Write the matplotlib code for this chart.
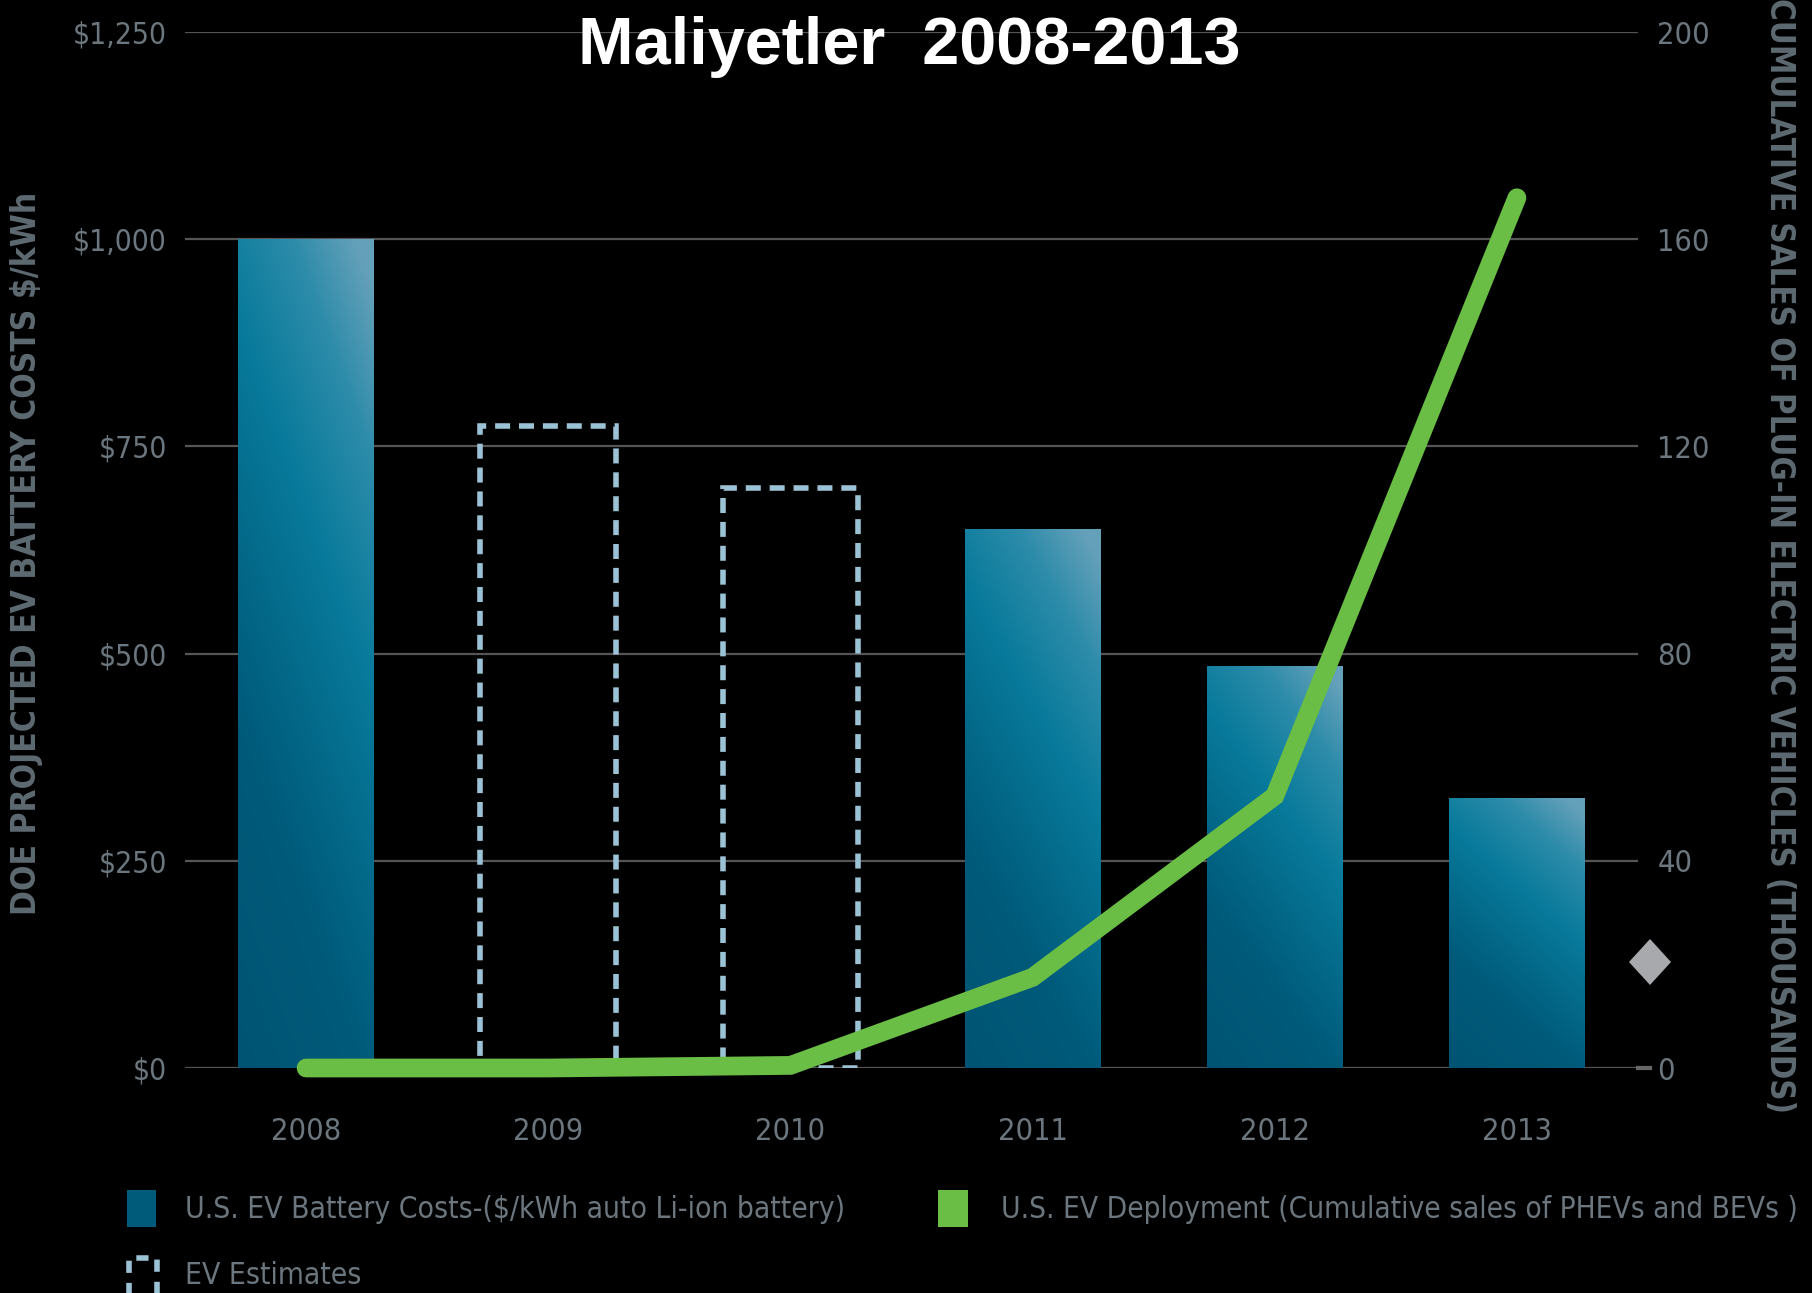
import numpy as np
import matplotlib
matplotlib.use("Agg")
import matplotlib.pyplot as plt
from matplotlib.colors import LinearSegmentedColormap
from matplotlib.patches import Rectangle, Polygon

# chart data
years = ["2008", "2009", "2010", "2011", "2012", "2013"]
battery_cost = [1000, None, None, 650, 485, 325]       # $/kWh, solid bars
estimate_cost = [None, 775, 700, None, None, None]      # $/kWh, dashed estimate bars
ev_sales = [0, 0, 0.5, 17.5, 52.5, 168]                 # thousands, cumulative
cost_ticks = [0, 250, 500, 750, 1000, 1250]
cost_labels = ["$0", "$250", "$500", "$750", "$1,000", "$1,250"]
sales_ticks = [0, 40, 80, 120, 160, 200]

BG = "black"
GRID = "#555555"
TXT = "#6b767e"
LABEL = "#5e6a72"
GREEN = "#6abd45"
DASH = "#9cc3d5"
NARROW = dict(family="DejaVu Sans", stretch="condensed")

fig = plt.figure(figsize=(18.12, 12.93), dpi=100, facecolor=BG)
ax = fig.add_axes([185 / 1812, 1 - 1068 / 1293, 1453 / 1812, 1036 / 1293])
ax.set_facecolor(BG)
x = np.arange(len(years))
width = 0.56

# blue gradient used inside every solid bar
bar_cmap = LinearSegmentedColormap.from_list(
    "bar",
    [(0.0, (0 / 255, 84 / 255, 115 / 255)),
     (0.3, (0 / 255, 90 / 255, 122 / 255)),
     (0.65, (8 / 255, 122 / 255, 155 / 255)),
     (0.85, (45 / 255, 140 / 255, 170 / 255)),
     (1.0, (100 / 255, 160 / 255, 185 / 255))])
ny, nx = 200, 60
tt, ss = np.meshgrid(np.linspace(0, 1, nx), np.linspace(0, 1, ny))
grad = np.clip(0.72 * ss + 0.32 * tt, 0, 1)

for xi, v in zip(x, battery_cost):
    if v is None:
        continue
    ax.imshow(grad, cmap=bar_cmap, vmin=0, vmax=1, origin="lower",
              extent=(xi - width / 2, xi + width / 2, 0, v),
              aspect="auto", zorder=2, interpolation="bilinear")

for xi, v in zip(x, estimate_cost):
    if v is None:
        continue
    ax.add_patch(Rectangle((xi - width / 2, 0), width, v, fill=False,
                           edgecolor=DASH, lw=4, linestyle=(0, (2.7, 1.6)),
                           zorder=3))

ax.set_xlim(-0.5, 5.5)
ax.set_ylim(0, 1250)
ax.set_yticks(cost_ticks)
ax.set_yticklabels(cost_labels)
ax.set_xticks(x)
ax.set_xticklabels(years)
ax.yaxis.grid(True, color=GRID, lw=1.6, zorder=1)
ax.set_axisbelow(True)
for s in ax.spines.values():
    s.set_visible(False)
ax.tick_params(axis="y", length=0, pad=13, labelsize=21.5, labelcolor=TXT)
ax.tick_params(axis="x", length=0, pad=35, labelsize=22, labelcolor=TXT)
for lab in ax.get_xticklabels() + ax.get_yticklabels():
    lab.set(**NARROW)

# short stub continuing the zero line towards the right-hand "0"
ax.plot([1.0, 1.008], [0, 0], transform=ax.transAxes, color="#666666",
        lw=3, clip_on=False, zorder=1)

# cumulative deployment line on the right-hand axis
ax2 = ax.twinx()
ax2.set_ylim(0, 200)
ax2.set_yticks(sales_ticks)
ax2.plot(x, ev_sales, color=GREEN, lw=13.5, solid_capstyle="round",
         solid_joinstyle="miter", clip_on=False, zorder=5)
for s in ax2.spines.values():
    s.set_visible(False)
ax2.tick_params(axis="y", length=0, pad=14, labelsize=22, labelcolor=TXT)
for lab in ax2.get_yticklabels():
    lab.set(**NARROW)

# axis titles
fig.text(27 / 1812, 1 - 553 / 1293, "DOE PROJECTED EV BATTERY COSTS $/kWh",
         rotation=90, ha="center", va="center", color=LABEL, fontsize=24,
         fontweight="bold", **NARROW)
fig.text(1780 / 1812, 1 - 556 / 1293,
         "CUMULATIVE SALES OF PLUG-IN ELECTRIC VEHICLES (THOUSANDS)",
         rotation=-90, ha="center", va="center", color=LABEL, fontsize=23.7,
         fontweight="bold", **NARROW)

fig.text(909 / 1812, 1 - 64 / 1293, "Maliyetler  2008-2013", ha="center",
         va="baseline", color="white", fontsize=48, fontweight="bold",
         family=["Liberation Sans", "DejaVu Sans"])

# grey diamond by the right axis
cx, cy = 1650 / 1812, 1 - 962 / 1293
hw, hh = 21 / 1812, 23 / 1293
fig.patches.append(Polygon([(cx - hw, cy), (cx, cy + hh), (cx + hw, cy), (cx, cy - hh)],
                           closed=True, transform=fig.transFigure,
                           facecolor="#a7a9ac", edgecolor="none"))

# legend
def fx(px):
    return px / 1812

def fy(py):
    return 1 - py / 1293

fig.patches.append(Rectangle((fx(127), fy(1227)), fx(156) - fx(127), fy(1190) - fy(1227),
                             transform=fig.transFigure, facecolor="#005a7a",
                             edgecolor="none"))
fig.patches.append(Rectangle((fx(938), fy(1227)), fx(968) - fx(938), fy(1190) - fy(1227),
                             transform=fig.transFigure, facecolor=GREEN,
                             edgecolor="none"))
fig.patches.append(Rectangle((fx(129), fy(1310)), fx(157) - fx(129), fy(1258) - fy(1310),
                             transform=fig.transFigure, fill=False, edgecolor=DASH,
                             lw=4, linestyle=(0, (2.2, 1.8))))
fig.text(fx(185), fy(1210), "U.S. EV Battery Costs-($/kWh auto Li-ion battery)",
         ha="left", va="center", color=TXT, fontsize=21.5, **NARROW)
fig.text(fx(1001), fy(1210),
         "U.S. EV Deployment (Cumulative sales of PHEVs and BEVs )",
         ha="left", va="center", color=TXT, fontsize=21.3, **NARROW)
fig.text(fx(185), fy(1276), "EV Estimates", ha="left", va="center",
         color=TXT, fontsize=21.5, **NARROW)

fig.savefig("out.png", dpi=100, facecolor=BG)
